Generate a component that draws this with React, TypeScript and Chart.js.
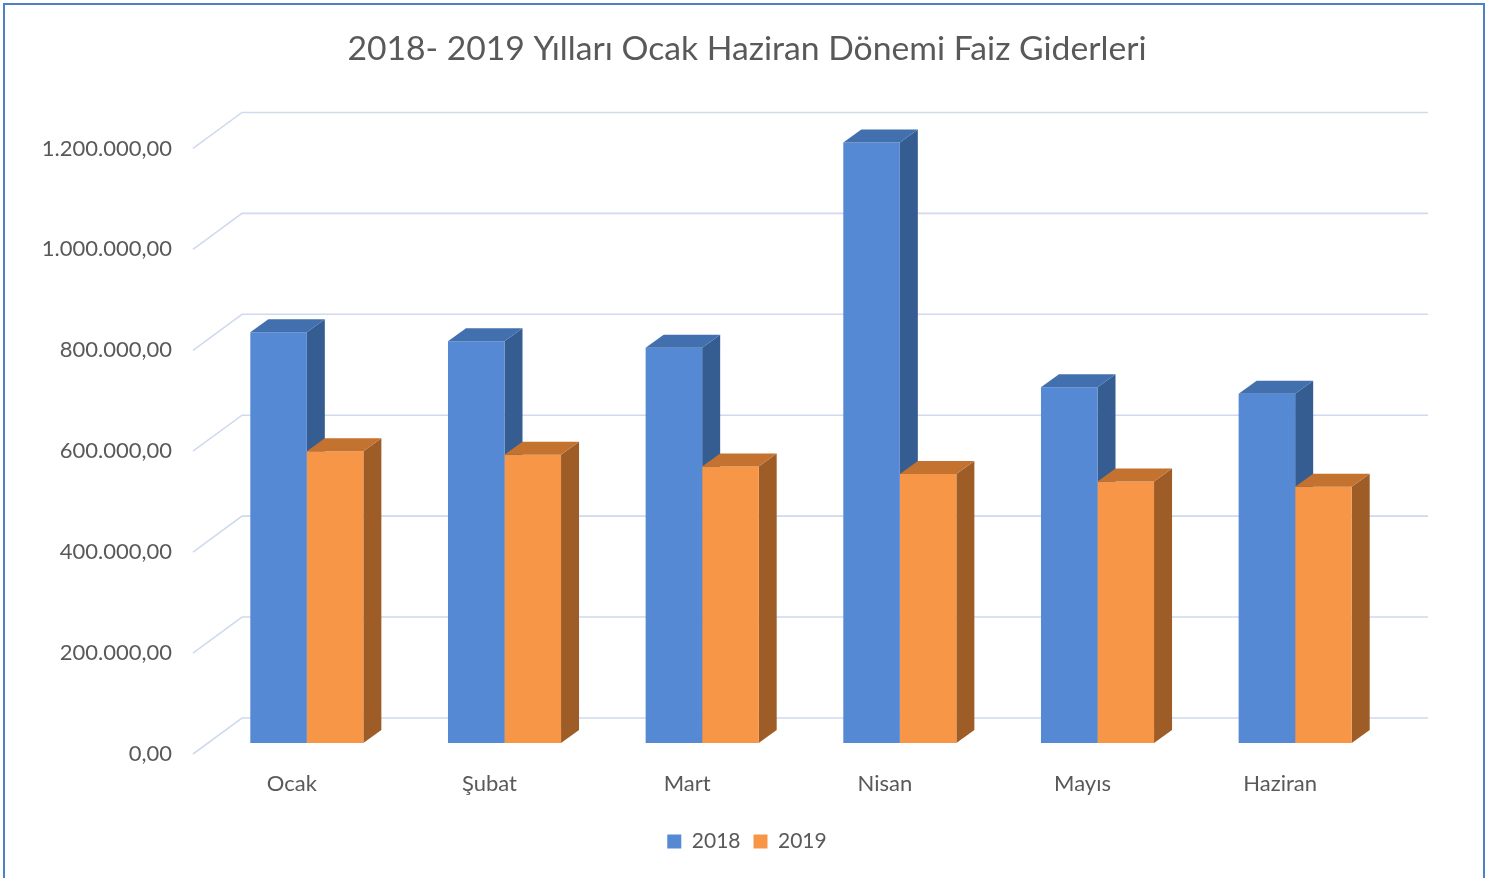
import React, { useEffect, useRef } from 'react';
import { Chart, registerables } from 'chart.js';

Chart.register(...registerables);

// ---- data ----
const CATEGORIES = ['Ocak', 'Şubat', 'Mart', 'Nisan', 'Mayıs', 'Haziran'];
const SERIES_LABELS = ['2018', '2019'];
const SERIES_2018 = [814000, 796000, 783000, 1190000, 705000, 692000];
const SERIES_2019 = [578000, 571000, 548000, 533000, 518000, 508000];
const Y_MAX = 1200000;
const Y_STEP = 200000;
const TITLE = '2018- 2019 Yılları Ocak Haziran Dönemi Faiz Giderleri';

// ---- style ----
const FRONT_COLORS = ['#5689d3', '#f79646'];
const TOP_COLORS = ['#4270ae', '#c4722f'];
const SIDE_COLORS = ['#365d91', '#9e5d27'];
const TEXT = '#595959';
const GRID = '#d0daee';
const FONT = 'Lato';

const WALL = { dx: 49, dy: -36 };
const BAR_SHIFT = { dx: 15, dy: -11 };
const DEPTH = { dx: 18, dy: -13 };

function formatTR(v: number): string {
  const s = Math.round(Math.abs(v)).toString().replace(/\B(?=(\d{3})+(?!\d))/g, '.');
  return (v < 0 ? '-' : '') + s + ',00';
}

const threeD = {
  id: 'threeD',
  beforeDatasetsDraw(chart: any) {
    const { ctx, chartArea, scales } = chart;
    const y = scales.y;
    ctx.save();
    ctx.strokeStyle = GRID;
    ctx.lineWidth = 1.6;
    for (const t of y.ticks) {
      const py = y.getPixelForValue(t.value);
      ctx.beginPath();
      ctx.moveTo(chartArea.left, py);
      ctx.lineTo(chartArea.left + WALL.dx, py + WALL.dy);
      ctx.lineTo(chartArea.right + WALL.dx, py + WALL.dy);
      ctx.stroke();
    }
    ctx.restore();

    ctx.save();
    ctx.translate(BAR_SHIFT.dx, BAR_SHIFT.dy);
    chart.data.datasets.forEach((_ds: any, di: number) => {
      const meta = chart.getDatasetMeta(di);
      meta.data.forEach((el: any) => {
        const { x, y: top, base, width } = el.getProps(['x', 'y', 'base', 'width'], true);
        const r = x + width / 2;
        ctx.fillStyle = SIDE_COLORS[di];
        ctx.beginPath();
        ctx.moveTo(r, top);
        ctx.lineTo(r + DEPTH.dx, top + DEPTH.dy);
        ctx.lineTo(r + DEPTH.dx, base + DEPTH.dy);
        ctx.lineTo(r, base);
        ctx.closePath();
        ctx.fill();
      });
    });
    // translation stays active while the library draws the bar fronts
  },
  afterDatasetsDraw(chart: any) {
    const { ctx } = chart;
    chart.data.datasets.forEach((_ds: any, di: number) => {
      const meta = chart.getDatasetMeta(di);
      meta.data.forEach((el: any) => {
        const { x, y: top, width } = el.getProps(['x', 'y', 'base', 'width'], true);
        const l = x - width / 2;
        const r = x + width / 2;
        ctx.fillStyle = TOP_COLORS[di];
        ctx.beginPath();
        ctx.moveTo(l, top);
        ctx.lineTo(l + DEPTH.dx, top + DEPTH.dy);
        ctx.lineTo(r + DEPTH.dx, top + DEPTH.dy);
        ctx.lineTo(r, top);
        ctx.closePath();
        ctx.fill();
      });
    });
    ctx.restore();
  },
};

export default function App() {
  const ref = useRef<HTMLCanvasElement>(null);

  useEffect(() => {
    document.body.style.margin = '0';
    Chart.defaults.font.family = FONT;
    const chart = new Chart(ref.current as HTMLCanvasElement, {
      type: 'bar',
      data: {
        labels: CATEGORIES,
        datasets: [
          {
            label: SERIES_LABELS[0],
            data: SERIES_2018,
            backgroundColor: FRONT_COLORS[0],
            borderWidth: 0,
            categoryPercentage: 0.572,
            barPercentage: 1,
            clip: false as any,
          },
          {
            label: SERIES_LABELS[1],
            data: SERIES_2019,
            backgroundColor: FRONT_COLORS[1],
            borderWidth: 0,
            categoryPercentage: 0.572,
            barPercentage: 1,
            clip: false as any,
          },
        ],
      },
      options: {
        responsive: false,
        animation: false,
        layout: { padding: { left: 0, right: 0, top: 0, bottom: 16 } },
        plugins: {
          title: {
            display: true,
            text: TITLE,
            color: TEXT,
            font: { size: 33.7, family: FONT, weight: 'normal' as any },
            padding: { top: 29, bottom: 79 },
          },
          legend: {
            position: 'bottom',
            labels: {
              color: TEXT,
              font: { size: 21, family: FONT },
              boxWidth: 14,
              boxHeight: 14,
              padding: 13,
            },
          },
          tooltip: { enabled: false },
        },
        scales: {
          x: {
            grid: { display: false, drawTicks: false },
            border: { display: false },
            ticks: { color: TEXT, font: { size: 22, family: FONT }, padding: 17 },
            afterFit: (s: any) => {
              s.height = 64;
            },
          },
          y: {
            min: 0,
            max: Y_MAX,
            grid: { display: false, drawTicks: false },
            border: { display: false },
            ticks: {
              stepSize: Y_STEP,
              padding: 21,
              color: TEXT,
              font: { size: 22, family: FONT },
              callback: (v: any) => formatTR(Number(v)),
            },
            afterFit: (s: any) => {
              s.width = 193;
            },
          },
          y2: {
            type: 'linear',
            position: 'right',
            grid: { display: false, drawTicks: false },
            border: { display: false },
            ticks: { display: false },
            afterFit: (s: any) => {
              s.width = 115;
            },
          },
        },
      } as any,
      plugins: [threeD],
    });
    return () => chart.destroy();
  }, []);

  return (
    <div style={{ position: 'relative', width: 1494, height: 878, overflow: 'hidden', background: '#ffffff' }}>
      <canvas ref={ref} width={1494} height={878} style={{ display: 'block' }} />
      <div
        style={{
          position: 'absolute',
          left: 3,
          top: 3,
          width: 1482,
          height: 1000,
          border: '2px solid #4f81c7',
          boxSizing: 'border-box',
          pointerEvents: 'none',
        }}
      />
    </div>
  );
}
